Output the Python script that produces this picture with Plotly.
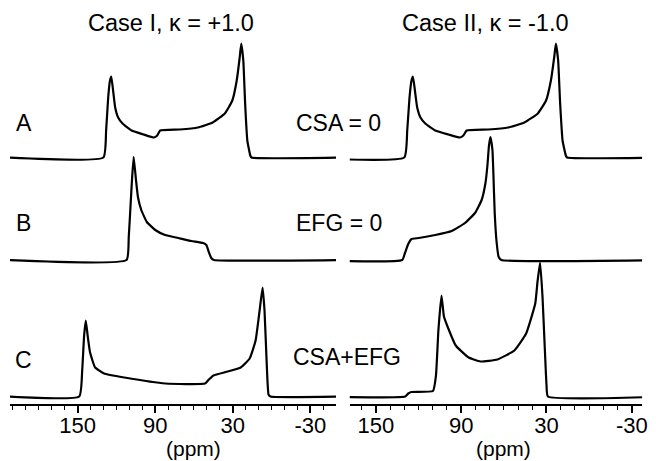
import plotly.graph_objects as go

# ---------------- data (ppm, intensity in arbitrary units) ----------------
A_ppm = [205, 130.0, 127.9, 126.3, 124.9, 123.9, 122.5, 120.9, 118.6, 115.2, 108.2, 98.9, 90.8, 88.4,
         86.1, 71.0, 57.0, 45.5, 36.1, 30.3, 26.9, 24.6, 23.4, 21.8, 20.4, 18.7, 16.4, 15.5, -55]
A_int = [0, 0, 27, 60, 77, 81, 67, 50, 40, 34, 27, 23, 20, 22,
         27, 28, 30, 35, 44, 57, 77, 100, 114, 97, 54, 17, 2, 0, 0]

B_I_ppm = [205, 112.1, 110.4, 108.9, 107.9, 106.6, 104.8, 103.3, 100.7, 96.4, 89.9, 82.3, 72.1,
           61.9, 52.9, 50.4, 48.5, 46.6, 44.5, -55]
B_I_int = [0, 0, 23, 57, 80, 103, 80, 63, 50, 38, 30, 25, 22,
           19, 17, 15, 8, 2, 0, 0]

B_II_ppm = [205, 131.4, 129.5, 127.2, 124.9, 119.8, 108.2, 96.6, 87.3, 80.3, 75.6, 72.9, 71.5,
            70.4, 69.4, 68.0, 67.3, 66.4, 65.0, 63.6, 61.7, -55]
B_II_int = [0, 0, 7, 16, 21, 22, 25, 29, 37, 47, 60, 77, 95,
            115, 123, 110, 85, 47, 17, 3, 0, 0]

C_I_ppm = [205, 148.7, 146.4, 144.9, 143.6, 142.2, 140.3, 136.4, 129.5, 113.8, 82.0, 51.4, 48.4,
           44.9, 33.8, 23.8, 16.9, 12.3, 9.2, 6.9, 5.4, 3.8, 2.3, 0.8, -55]
C_I_int = [0, 0, 26, 61, 76, 61, 44, 29, 23, 19, 13, 13, 17,
           21, 25, 29, 38, 56, 86, 109, 86, 36, 2, 0, 0]

C_II_ppm = [205, 129.3, 127.2, 125.1, 109.8, 107.7, 106.0, 103.8, 102.1, 99.3, 93.8, 84.7, 76.4,
            64.5, 52.6, 44.3, 37.9, 36.3, 34.5, 32.8, 31.4, 30.0, 29.0, -55]
C_II_int = [0, 0, 3, 4.5, 5.5, 21, 66, 101, 80, 69, 51, 39, 35,
            37, 46, 63, 93, 115, 134, 100, 55, 12, 0, 0]

tick_vals = [150, 90, 30, -30]
tick_text = ["150", "90", "30", "-30"]
row_labels = ["A", "B", "C"]
row_notes = ["CSA = 0", "EFG = 0", "CSA+EFG"]
titles = ["Case I, \u03ba = +1.0", "Case II, \u03ba = -1.0"]

# ---------------- layout geometry ----------------
W, H = 656, 461
FONT = "Liberation Sans, Arial, sans-serif"
baseline_px = {"y": 157.5, "y2": 260.0, "y3": 396.5}
label_px = [123, 223, 360]
note_px = [(297, 123), (297, 223), (294, 357)]

fig = go.Figure()
line = dict(color="black", width=2.2, shape="spline", smoothing=0.4)

spectra = [
    (A_ppm, A_int, "x", "y"), (A_ppm, A_int, "x2", "y"),
    (B_I_ppm, B_I_int, "x", "y2"), (B_II_ppm, B_II_int, "x2", "y2"),
    (C_I_ppm, C_I_int, "x", "y3"), (C_II_ppm, C_II_int, "x2", "y3"),
]
for xs, ys, xa, ya in spectra:
    fig.add_trace(go.Scatter(x=xs, y=ys, xaxis=xa, yaxis=ya, mode="lines",
                             line=line, showlegend=False, hoverinfo="skip"))

def xaxis(dom_px, rng):
    return dict(domain=[dom_px[0] / W, dom_px[1] / W], range=rng, anchor="free",
                position=(H - 405) / H, showline=True, linewidth=2, linecolor="black",
                ticks="outside", ticklen=7, tickwidth=1.6, tickcolor="black",
                tickvals=tick_vals, ticktext=tick_text, ticklabelstandoff=-6,
                tickfont=dict(family=FONT, size=22, color="black"),
                minor=dict(tick0=0, dtick=10, ticks="outside", ticklen=4, tickwidth=1.2,
                           tickcolor="black", showgrid=False),
                showgrid=False, zeroline=False, fixedrange=True)

def yaxis(key, **kw):
    b = baseline_px[key]
    d = dict(domain=[0, 1], range=[-(H - b), b], visible=False, fixedrange=True)
    d.update(kw)
    return d

annotations = []
for t, xc in zip(titles, [173, 490]):
    annotations.append(dict(text=t, x=xc / W, y=(H - 23) / H, xref="paper", yref="paper",
                            showarrow=False, xanchor="center", yanchor="middle",
                            font=dict(family=FONT, size=23.5, color="black")))
for lab, yp in zip(row_labels, label_px):
    annotations.append(dict(text=lab, x=24 / W, y=(H - yp) / H, xref="paper", yref="paper",
                            showarrow=False, xanchor="center", yanchor="middle",
                            font=dict(family=FONT, size=23, color="black")))
for note, (xp, yp) in zip(row_notes, note_px):
    annotations.append(dict(text=note, x=xp / W, y=(H - yp) / H, xref="paper", yref="paper",
                            showarrow=False, xanchor="left", yanchor="middle",
                            font=dict(family=FONT, size=23, color="black")))
for xr in ["x", "x2"]:
    annotations.append(dict(text="(ppm)", x=60, y=(H - 448) / H, xref=xr, yref="paper",
                            showarrow=False, xanchor="center", yanchor="middle",
                            font=dict(family=FONT, size=21, color="black")))

fig.update_layout(
    width=W, height=H, margin=dict(l=0, r=0, t=0, b=0),
    paper_bgcolor="white", plot_bgcolor="rgba(0,0,0,0)",
    xaxis=xaxis((10, 339), [202.3, -49.8]),
    xaxis2=xaxis((353, 648), [168.3, -37.2]),
    yaxis=yaxis("y", anchor="x"),
    yaxis2=yaxis("y2", anchor="x"),
    yaxis3=yaxis("y3", anchor="x"),
    annotations=annotations,
    showlegend=False,
)

fig.write_html("out.html", config={"displayModeBar": False},
               post_script="document.body.style.margin='0';document.body.style.overflow='hidden';")
